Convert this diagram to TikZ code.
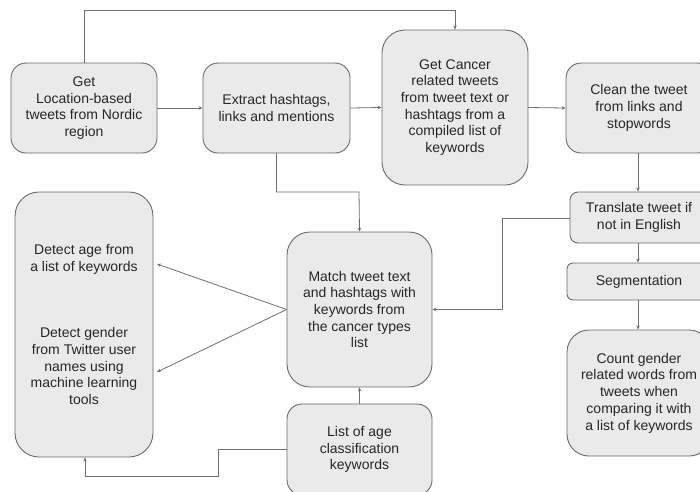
\documentclass[tikz,border=0pt]{standalone}
\usepackage{fontspec}
\setmainfont{Liberation Sans}
\usetikzlibrary{arrows.meta}
\definecolor{boxfill}{HTML}{EAEAEA}
\definecolor{boxline}{HTML}{6A6A6E}
\definecolor{wire}{HTML}{6E6E76}
\definecolor{ink}{HTML}{262626}
\begin{document}
\begin{tikzpicture}[x=1pt,y=-1pt,
  stepbox/.style={draw=boxline, line width=0.9pt, fill=boxfill, text=ink,
    align=center, inner sep=2pt, font=\fontsize{14}{16.7}\selectfont},
  link/.style={draw=wire, line width=0.8pt, -{Stealth[length=4pt,width=3.5pt]}},
  plain/.style={draw=wire, line width=0.8pt}]
\clip (0,0) rectangle (700,491);
\useasboundingbox (0,0) rectangle (700,491);
\fill[white] (0,0) rectangle (700,491);

% process boxes
\node[stepbox, rounded corners=15pt, minimum width=146pt, minimum height=90pt]
  (loc) at (84,108) {Get\\Location-based\\tweets from Nordic\\region};
\node[stepbox, rounded corners=15pt, minimum width=147pt, minimum height=90pt]
  (ext) at (276.5,108) {Extract hashtags,\\links and mentions};
\node[stepbox, rounded corners=23pt, minimum width=146pt, minimum height=155pt]
  (can) at (455,107.5) {Get Cancer\\related tweets\\from tweet text or\\hashtags from a\\compiled list of\\keywords};
\node[stepbox, rounded corners=15pt, minimum width=146pt, minimum height=90pt]
  (cln) at (639,108) {Clean the tweet\\from links and\\stopwords};
\node[stepbox, rounded corners=8pt, minimum width=138pt, minimum height=51pt]
  (trn) at (639,217.5) {Translate tweet if\\not in English};
\node[stepbox, rounded corners=6pt, minimum width=144pt, minimum height=37pt]
  (seg) at (639,281.5) {Segmentation};
\node[stepbox, rounded corners=22pt, minimum width=144pt, minimum height=126pt]
  (cnt) at (639,393) {Count gender\\related words from\\tweets when\\comparing it with\\a list of keywords};
\node[stepbox, rounded corners=23pt, minimum width=145pt, minimum height=155pt]
  (mat) at (359.5,309.5) {Match tweet text\\and hashtags with\\keywords from\\the cancer types\\list};
\node[stepbox, rounded corners=15pt, minimum width=145pt, minimum height=91pt]
  (age) at (359.5,449.5) {List of age\\classification\\keywords};
\node[stepbox, rounded corners=24pt, minimum width=138pt, minimum height=265pt]
  (det) at (84,324.5) {Detect age from\\a list of keywords\\[50pt]Detect gender\\from Twitter user\\names using\\machine learning\\tools};

% anchor points of the detection box
\coordinate (detA) at (157,264);
\coordinate (detB) at (157,372);

% connectors
\draw[link] (loc.north) -- ++(0,-52) -| (can.north);
\draw[link] (loc.east) -- (ext.west);
\draw[link] (ext.east) -- (can.west);
\draw[link] (can.east) -- (cln.west);
\draw[link] (ext.south) |- (359,192) -- (mat.north);
\draw[link] (cln.south -| 638,0) -- (trn.north -| 638,0);
\draw[link] (trn.south -| 638,0) -- (seg.north -| 638,0);
\draw[link] (seg.south -| 638,0) -- (cnt.north -| 638,0);
\draw[link] (trn.west |- 0,218) -- (502,218) |- (mat.east);
\draw[link] (mat.west) -- (detA);
\draw[link] (mat.west) -- (detB);
\draw[link] (age.south west |- 0,449) -| (218,476) -| (det.south -| 85,0);
\draw[link] (age.north) -- (mat.south);
\end{tikzpicture}
\end{document}
